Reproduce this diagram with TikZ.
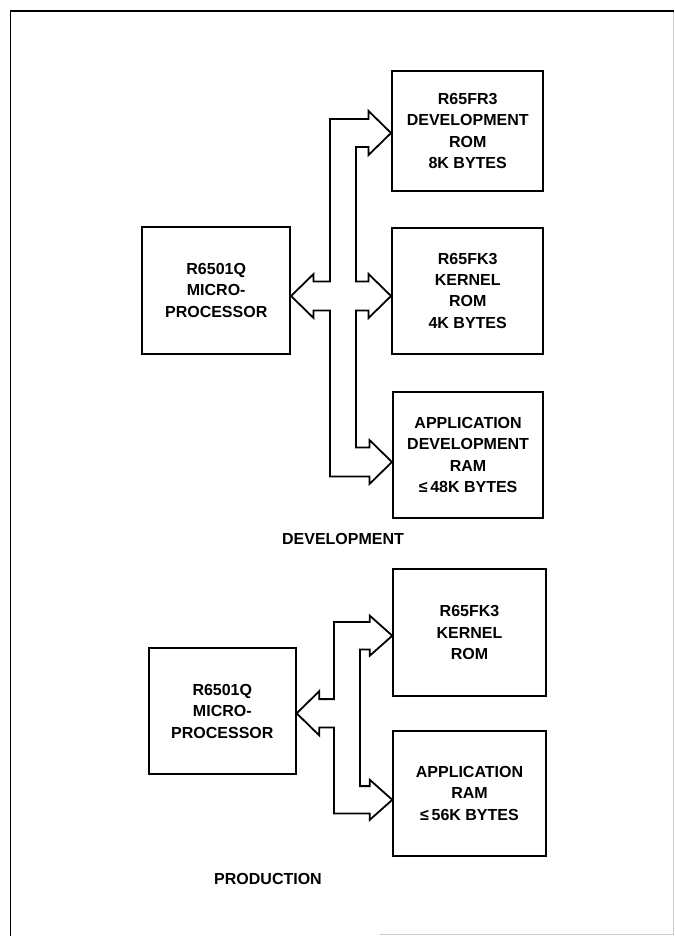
\documentclass[tikz,border=0pt]{standalone}
\usepackage{fontspec}
\setmainfont{Liberation Sans}
\usetikzlibrary{calc}
\tikzset{
  blk/.style={draw=black, line width=2pt, inner sep=0pt, align=center,
    font=\bfseries\fontsize{16}{21.3}\selectfont},
  lbl/.style={inner sep=0pt, font=\bfseries\fontsize{16}{21.3}\selectfont},
  bus/.style={draw=black, line width=1.8pt, line join=miter},
  frame/.style={draw=black, line width=1.5pt},
  faint/.style={draw=black!20, line width=0.8pt}
}
\begin{document}
\begin{tikzpicture}[x=1pt,y=-1pt]
\useasboundingbox[fill=white] (0,0) rectangle (674,936);
% outer frame
\draw[faint] (673,11) -- (673,934) -- (380,934);
\draw[frame] (10.5,936) -- (10.5,11) -- (674,11);

% ---------------- DEVELOPMENT ----------------
\node[blk, minimum width=147.7pt, minimum height=127.3pt] (micro) at (216.2,290.3) {R6501Q\\MICRO-\\PROCESSOR};
\node[blk, minimum width=151.3pt, minimum height=120pt] (rom) at (467.7,131) {R65FR3\\DEVELOPMENT\\ROM\\8K BYTES};
\node[blk, minimum width=151.3pt, minimum height=126.3pt] (kern) at (467.7,290.8) {R65FK3\\KERNEL\\ROM\\4K BYTES};
\node[blk, minimum width=150.3pt, minimum height=126.6pt] (ram) at (468.1,455) {APPLICATION\\DEVELOPMENT\\RAM\\≤\,48K BYTES};
\node[lbl] (devlbl) at (343,539) {DEVELOPMENT};

\coordinate (mt) at ([yshift=-5.7pt]micro.east);
\coordinate (rt) at ([yshift=-2pt]rom.west);
\coordinate (kt) at ([yshift=-5.2pt]kern.west);
\coordinate (at) at ([yshift=-7pt]ram.west);
\coordinate (xo) at (330,0);
\coordinate (xi) at (356,0);
\coordinate (mU) at ($(mt)+(22.5,-14.5)$);
\coordinate (mD) at ($(mt)+(22.5,14.5)$);
\coordinate (rU) at ($(rt)+(-22.5,-14)$);
\coordinate (rD) at ($(rt)+(-22.5,14)$);
\coordinate (kU) at ($(kt)+(-22.5,-14.5)$);
\coordinate (kD) at ($(kt)+(-22.5,14.5)$);
\coordinate (aU) at ($(at)+(-22.5,-14.5)$);
\coordinate (aD) at ($(at)+(-22.5,14.5)$);

\draw[bus] (mt) -- ($(mt)+(22.5,-22)$) -- (mU) -- (xo |- mU) -- (xo |- rU) -- (rU)
  -- ($(rt)+(-22.5,-22)$) -- (rt) -- ($(rt)+(-22.5,22)$) -- (rD)
  -- (xi |- rD) -- (xi |- kU) -- (kU)
  -- ($(kt)+(-22.5,-22)$) -- (kt) -- ($(kt)+(-22.5,22)$) -- (kD)
  -- (xi |- kD) -- (xi |- aU) -- (aU)
  -- ($(at)+(-22.5,-22)$) -- (at) -- ($(at)+(-22.5,22)$) -- (aD)
  -- (xo |- aD) -- (xo |- mD) -- (mD) -- ($(mt)+(22.5,22)$) -- cycle;

% ---------------- PRODUCTION ----------------
\node[blk, minimum width=146.7pt, minimum height=126pt] (pmicro) at (222.3,711.3) {R6501Q\\MICRO-\\PROCESSOR};
\node[blk, minimum width=152.4pt, minimum height=126.7pt] (pkern) at (469.5,632.7) {R65FK3\\KERNEL\\ROM};
\node[blk, minimum width=152.4pt, minimum height=125.3pt] (pram) at (469.5,793.3) {APPLICATION\\RAM\\≤\,56K BYTES};
\node[lbl] (prodlbl) at (268,879) {PRODUCTION};

\coordinate (pmt) at ([yshift=-2pt]pmicro.east);
\coordinate (prt) at ([yshift=-3pt]pkern.west);
\coordinate (pat) at ([yshift=-6.5pt]pram.west);
\coordinate (pxo) at (334,0);
\coordinate (pxi) at (360,0);
\coordinate (pmU) at ($(pmt)+(22.5,-14.2)$);
\coordinate (pmD) at ($(pmt)+(22.5,14.2)$);
\coordinate (prU) at ($(prt)+(-22.5,-13.7)$);
\coordinate (prD) at ($(prt)+(-22.5,13.7)$);
\coordinate (paU) at ($(pat)+(-22.5,-13.7)$);
\coordinate (paD) at ($(pat)+(-22.5,13.7)$);

\draw[bus] (pmt) -- ($(pmt)+(22.5,-22)$) -- (pmU) -- (pxo |- pmU) -- (pxo |- prU) -- (prU)
  -- ($(prt)+(-22.5,-20)$) -- (prt) -- ($(prt)+(-22.5,20)$) -- (prD)
  -- (pxi |- prD) -- (pxi |- paU) -- (paU)
  -- ($(pat)+(-22.5,-20)$) -- (pat) -- ($(pat)+(-22.5,20)$) -- (paD)
  -- (pxo |- paD) -- (pxo |- pmD) -- (pmD) -- ($(pmt)+(22.5,22)$) -- cycle;
\end{tikzpicture}
\end{document}
